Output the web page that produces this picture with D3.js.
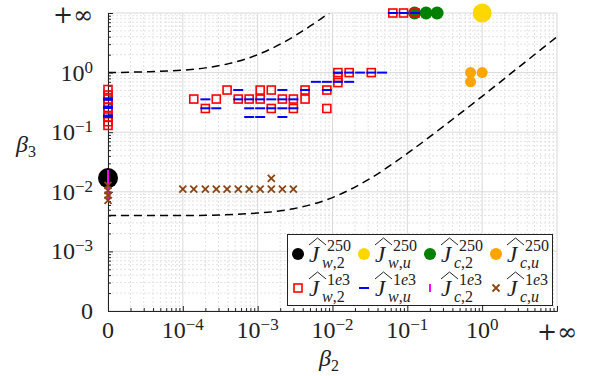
<!DOCTYPE html>
<html>
<head>
<meta charset="utf-8">
<script src="https://cdn.jsdelivr.net/npm/d3@7"></script>
<style>
  body { margin: 0; background: #fff; }
</style>
</head>
<body>
<svg id="chart" width="592" height="376" font-family="Liberation Serif, DejaVu Serif, serif" fill="#222"></svg>
<script>
// each point is [beta2, beta3]; 0 and Infinity sit on the ends of the axes
const INF = Infinity;

const w2_250 = [[0, 0.017]];
const wu_250 = [[1, INF]];
const c2_250 = [[0.125, INF], [0.178, INF], [0.25, INF]];
const cu_250 = [[0.7, 1.0], [1.0, 1.0], [0.7, 0.7]];

const w2_1e3 = [
  [0, 0.52], [0, 0.42], [0, 0.36], [0, 0.30], [0, 0.26], [0, 0.22], [0, 0.18], [0, 0.15], [0, 0.13],
  [1.4e-4, 0.36], [2e-4, 0.25], [2.8e-4, 0.36], [3.9e-4, 0.51], [5.5e-4, 0.36], [7.7e-4, 0.36],
  [1.08e-3, 0.51], [1.08e-3, 0.36], [1.52e-3, 0.51], [1.52e-3, 0.25], [2.14e-3, 0.36],
  [3e-3, 0.36], [3e-3, 0.25], [4.3e-3, 0.51], [4.3e-3, 0.36], [8.4e-3, 0.51], [8.4e-3, 0.25],
  [0.0118, 1.0], [0.0118, 0.83], [0.0118, 0.68], [0.0167, 1.0], [0.033, 1.0],
  [0.064, INF], [0.089, INF], [0.127, INF],
];
const wu_1e3 = [
  [0, 0.37], [0, 0.35], [0, 0.27], [0, 0.255], [0, 0.19], [0, 0.18],
  [5.5e-4, 0.51], [2.14e-3, 0.51], [4.3e-3, 0.51], [8.4e-3, 0.51],
  [2e-4, 0.356], [5.5e-4, 0.356], [7.7e-4, 0.356], [1.08e-3, 0.356], [1.52e-3, 0.356], [2.14e-3, 0.356], [3e-3, 0.356],
  [2e-4, 0.252], [2.8e-4, 0.252], [7.7e-4, 0.252], [1.08e-3, 0.252], [1.52e-3, 0.252], [2.14e-3, 0.252], [3e-3, 0.252],
  [7.7e-4, 0.18], [1.08e-3, 0.18], [2.14e-3, 0.18],
  [6e-3, 0.70], [8.4e-3, 0.70], [0.0118, 0.70], [0.0167, 0.70],
  [0.0118, 1.0], [0.0167, 1.0], [0.0234, 1.0], [0.033, 1.0], [0.046, 1.0],
  [0.064, INF], [0.089, INF], [0.127, INF],
];
const c2_1e3 = [[0, 0.0207], [0, 0.0164], [0, 0.013], [0, 0.0103], [0, 0.0082]];
const cu_1e3 = [
  [0, 0.0128], [0, 0.0105], [0, 0.0088], [0, 0.0072],
  [1e-4, 0.0111], [1.4e-4, 0.0111], [2e-4, 0.0111], [2.8e-4, 0.0111], [3.9e-4, 0.0111], [5.5e-4, 0.0111],
  [7.7e-4, 0.0111], [1.08e-3, 0.0111], [1.52e-3, 0.0111], [2.14e-3, 0.0111], [3e-3, 0.0111], [1.52e-3, 0.0168],
];

// dashed bounds
const upperB2 = [0, 3e-5, 1e-4, 2e-4, 4e-4, 7e-4, 1e-3, 1.5e-3, 2e-3, 3e-3, 4e-3, 5e-3, 6e-3, 7e-3, 8e-3, 9e-3];
const upperB3 = [1, 1.03, 1.1, 1.2, 1.4, 1.7, 2, 2.5, 3, 4, 5, 6, 7, 8, 9, 10];
const lowerB2 = [0, 1e-4, 1e-3, 3e-3, 1e-2, 3e-2, 0.1, 0.3, 1, 3, 10];
const lowerB3 = [0.004, 0.004, 0.0044, 0.0052, 0.008, 0.016, 0.044, 0.124, 0.4, 1.2, 4.0];

const svg = d3.select('#chart');
const x = d3.scaleLog().domain([1e-5, 10]).range([108, 557]);
const y = d3.scaleLog().domain([1e-4, 10]).range([311, 13]);
const fx = v => x(v === 0 ? 1e-5 : (v === INF ? 10 : v));
const fy = v => y(v === 0 ? 1e-4 : (v === INF ? 10 : v));

function decades(lo, hi) {
  const a = [];
  for (let e = lo; e <= hi; e += 1) a.push(+(`1e${e}`));
  return a;
}
function minors(lo, hi) {
  const a = [];
  for (let e = lo; e < hi; e += 1) for (let k = 2; k <= 9; k += 1) a.push(k * +(`1e${e}`));
  return a;
}
const xMajor = decades(-5, 1);
const yMajor = decades(-4, 1);
const xMinor = minors(-5, 1);
const yMinor = minors(-4, 1);
const [x0, x1] = x.range();
const [y0, y1] = y.range();

// grid
const grid = svg.append('g');
grid.selectAll('line.vmin').data(xMinor).join('line')
  .attr('x1', d => x(d)).attr('x2', d => x(d)).attr('y1', y1).attr('y2', y0)
  .attr('stroke', '#e3e3e3').attr('stroke-dasharray', '2,2');
grid.selectAll('line.hmin').data(yMinor).join('line')
  .attr('y1', d => y(d)).attr('y2', d => y(d)).attr('x1', x0).attr('x2', x1)
  .attr('stroke', '#e3e3e3').attr('stroke-dasharray', '2,2');
grid.selectAll('line.vmaj').data(xMajor).join('line')
  .attr('x1', d => x(d)).attr('x2', d => x(d)).attr('y1', y1).attr('y2', y0)
  .attr('stroke', '#dadada');
grid.selectAll('line.hmaj').data(yMajor).join('line')
  .attr('y1', d => y(d)).attr('y2', d => y(d)).attr('x1', x0).attr('x2', x1)
  .attr('stroke', '#dadada');

// dashed bounds
svg.append('clipPath').attr('id', 'plotclip').append('rect')
  .attr('x', x0).attr('y', y1).attr('width', x1 - x0).attr('height', y0 - y1);
const line = d3.line().x(d => fx(d[0])).y(d => fy(d[1])).curve(d3.curveMonotoneX);
[[upperB2, upperB3], [lowerB2, lowerB3]].forEach(([b2, b3]) => {
  svg.append('path')
    .attr('clip-path', 'url(#plotclip)')
    .attr('d', line(b2.map((v, i) => [v, b3[i]])))
    .attr('fill', 'none')
    .attr('stroke', '#000')
    .attr('stroke-width', 1.5)
    .attr('stroke-dasharray', '8,5');
});

// axes
const gx = svg.append('g').attr('transform', `translate(0,${y0})`);
gx.call(d3.axisBottom(x).tickValues(xMajor).tickSizeInner(-5).tickSizeOuter(0).tickFormat(''));
gx.append('g').call(d3.axisBottom(x).tickValues(xMinor).tickSizeInner(-3).tickSizeOuter(0).tickFormat(''));
const gy = svg.append('g').attr('transform', `translate(${x0},0)`);
gy.call(d3.axisLeft(y).tickValues(yMajor).tickSizeInner(-5).tickSizeOuter(0).tickFormat(''));
gy.append('g').call(d3.axisLeft(y).tickValues(yMinor).tickSizeInner(-3).tickSizeOuter(0).tickFormat(''));
svg.selectAll('.domain, .tick line').attr('stroke', '#222');

function tickLabel(sel, v, lo) {
  if (v === lo) sel.text('0');
  else if (v === 10) {
    sel.attr('font-family', 'DejaVu Serif').attr('font-size', 24).attr('dy', 2).text('+∞');
  } else {
    sel.append('tspan').text('10');
    sel.append('tspan').attr('dy', -8).attr('font-size', 17)
      .text(String(Math.round(Math.log10(v))).replace('-', '−'));
  }
}
svg.append('g').selectAll('text').data(xMajor).join('text')
  .attr('x', d => x(d)).attr('y', 338)
  .attr('text-anchor', 'middle').attr('font-size', 24)
  .each(function (d) { tickLabel(d3.select(this), d, 1e-5); });
svg.append('g').selectAll('text').data(yMajor).join('text')
  .attr('x', 93).attr('y', d => y(d) + 8)
  .attr('text-anchor', 'end').attr('font-size', 24)
  .each(function (d) { tickLabel(d3.select(this), d, 1e-4); });

// axis titles
const t3 = svg.append('text').attr('x', 16).attr('y', 152).attr('font-size', 24);
t3.append('tspan').attr('font-style', 'italic').text('β');
t3.append('tspan').attr('dy', 5).attr('font-size', 16).text('3');
const t2 = svg.append('text').attr('x', 319).attr('y', 366).attr('font-size', 24);
t2.append('tspan').attr('font-style', 'italic').text('β');
t2.append('tspan').attr('dy', 5).attr('font-size', 16).text('2');

// markers
function mark(g, type, color, size, cx, cy) {
  const h = size / 2;
  if (type === 'circle') {
    g.append('circle').attr('cx', cx).attr('cy', cy).attr('r', size).attr('fill', color);
  } else if (type === 'square') {
    g.append('rect').attr('x', cx - h).attr('y', cy - h).attr('width', size).attr('height', size)
      .attr('fill', 'none').attr('stroke', color).attr('stroke-width', 1.6);
  } else if (type === 'hbar') {
    g.append('line').attr('x1', cx - h).attr('x2', cx + h).attr('y1', cy).attr('y2', cy)
      .attr('stroke', color).attr('stroke-width', 2);
  } else if (type === 'vbar') {
    g.append('line').attr('x1', cx).attr('x2', cx).attr('y1', cy - h).attr('y2', cy + h)
      .attr('stroke', color).attr('stroke-width', 2);
  } else {
    g.append('path').attr('d', `M${cx - h},${cy - h}L${cx + h},${cy + h}M${cx - h},${cy + h}L${cx + h},${cy - h}`)
      .attr('stroke', color).attr('stroke-width', 1.8).attr('fill', 'none');
  }
}

const series = [
  { data: w2_250, type: 'circle', color: '#000000', size: 10, leg: 6, sup: '250', sub: 'w,2' },
  { data: wu_250, type: 'circle', color: '#FFD700', size: 9.5, leg: 6, sup: '250', sub: 'w,u' },
  { data: c2_250, type: 'circle', color: '#008000', size: 6.5, leg: 6, sup: '250', sub: 'c,2' },
  { data: cu_250, type: 'circle', color: '#FFA500', size: 5.5, leg: 6, sup: '250', sub: 'c,u' },
  { data: w2_1e3, type: 'square', color: '#FF0000', size: 8, leg: 8, sup: '1e3', sub: 'w,2' },
  { data: wu_1e3, type: 'hbar', color: '#0000FF', size: 10, leg: 10, sup: '1e3', sub: 'w,u' },
  { data: c2_1e3, type: 'vbar', color: '#FF00FF', size: 6, leg: 8, sup: '1e3', sub: 'c,2' },
  { data: cu_1e3, type: 'cross', color: '#8B4513', size: 7, leg: 7, sup: '1e3', sub: 'c,u' },
];

const gm = svg.append('g');
series.forEach((s) => {
  s.data.forEach((p) => mark(gm, s.type, s.color, s.size, fx(p[0]), fy(p[1])));
});

// legend
const lg = svg.append('g');
lg.append('rect').attr('x', 287.5).attr('y', 234.5).attr('width', 265).attr('height', 71)
  .attr('fill', '#fff').attr('stroke', '#222').attr('stroke-width', 1);
const colX = [298, 364, 430, 496];
const rowY = [254, 288];

function texJ(g, cx, cy, sup, sub) {
  g.append('path')
    .attr('d', `M${cx + 11},${cy - 9}L${cx + 19.5},${cy - 16}L${cx + 28},${cy - 9}`)
    .attr('fill', 'none').attr('stroke', '#222').attr('stroke-width', 1);
  g.append('text').attr('x', cx + 11).attr('y', cy + 8).attr('font-size', 23)
    .attr('font-style', 'italic').text('J');
  const tsup = g.append('text').attr('x', cx + 29).attr('y', cy - 3).attr('font-size', 16);
  if (sup === '1e3') {
    tsup.append('tspan').text('1');
    tsup.append('tspan').attr('font-style', 'italic').text('e');
    tsup.append('tspan').text('3');
  } else {
    tsup.text(sup);
  }
  const [a, b] = sub.split(',');
  const tsub = g.append('text').attr('x', cx + 24).attr('y', cy + 14).attr('font-size', 16);
  tsub.append('tspan').attr('font-style', 'italic').text(a);
  tsub.append('tspan').text(',');
  tsub.append('tspan').attr('font-style', b === 'u' ? 'italic' : 'normal').text(b);
}

series.forEach((s, i) => {
  const cx = colX[i % 4];
  const cy = rowY[Math.floor(i / 4)];
  mark(lg, s.type, s.color, s.leg, cx, cy);
  texJ(lg, cx, cy, s.sup, s.sub);
});
</script>
</body>
</html>
